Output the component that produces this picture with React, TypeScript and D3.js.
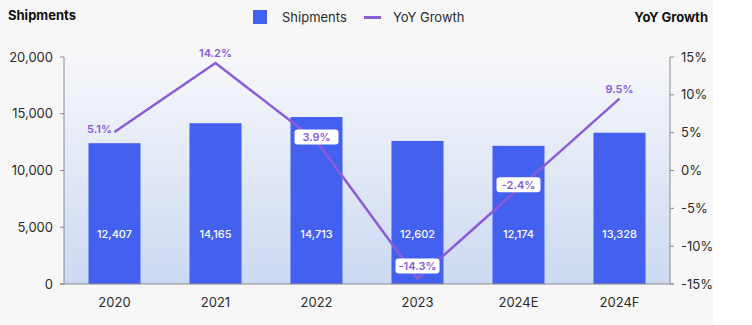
import React from "react";
import * as d3 from "d3";

const categories = ["2020", "2021", "2022", "2023", "2024E", "2024F"];
const shipments = [12407, 14165, 14713, 12602, 12174, 13328];
const growth = [5.1, 14.2, 3.9, -14.3, -2.4, 9.5];
const growthLabelKind = ["left", "above", "box", "box", "box", "above"];
const leftTicks = [0, 5000, 10000, 15000, 20000];
const rightTicks = [-15, -10, -5, 0, 5, 10, 15];

const W = 752;
const H = 325;
const X0 = 64;
const X1 = 670;
const YT = 57;
const YB = 284;
const FONT = "Inter, 'Open Sans', sans-serif";
const BAR = "#4361ee";
const LINE = "#8c5bd9";
const TXT = "#2b2b2b";

export default function App() {
  const x = d3.scaleBand<string>().domain(categories).range([X0, X1]).paddingInner(0.485).paddingOuter(0.2425);
  const yL = d3.scaleLinear().domain([0, 20000]).range([YB, YT]);
  const yR = d3.scaleLinear().domain([-15, 15]).range([YB, YT]);
  const cx = (c: string) => (x(c) as number) + x.bandwidth() / 2;
  const fmt = d3.format(",");
  const line = d3
    .line<number>()
    .x((_, i) => cx(categories[i]))
    .y((d) => yR(d));

  return (
    <div style={{ position: "fixed", left: 0, top: 0 }}>
      <svg width={W} height={H} style={{ display: "block" }} fontFamily={FONT}>
        <defs>
          <linearGradient id="plotbg" x1="0" y1="0" x2="0" y2="1">
            <stop offset="0%" stopColor="#f6f7f9" />
            <stop offset="100%" stopColor="#ccd9f2" />
          </linearGradient>
        </defs>
        <rect x={0} y={0} width={W} height={H} fill="#ffffff" />
        <rect x={0} y={0} width={713} height={H} fill="#f7f7f8" />
        <rect x={X0} y={YT} width={X1 - X0} height={YB - YT} fill="url(#plotbg)" />

        {/* titles */}
        <text x={8} y={20} fontSize={13} fontWeight={700} fill="#111">Shipments</text>
        <text x={708} y={22} fontSize={13} fontWeight={700} fill="#111" textAnchor="end">YoY Growth</text>

        {/* legend */}
        <rect x={253} y={10} width={14} height={14} fill={BAR} />
        <text x={282} y={22} fontSize={13} fill={TXT}>Shipments</text>
        <line x1={364} x2={381} y1={17.5} y2={17.5} stroke={LINE} strokeWidth={3} />
        <text x={393} y={22} fontSize={13} fill={TXT}>YoY Growth</text>

        {/* bars */}
        {categories.map((c, i) => (
          <g key={c}>
            <rect x={x(c)} y={yL(shipments[i])} width={x.bandwidth()} height={YB - yL(shipments[i])} fill={BAR} />
            <text x={cx(c)} y={YB - 46} fontSize={11} fontWeight={500} fill="#fff" textAnchor="middle">
              {fmt(shipments[i])}
            </text>
          </g>
        ))}

        {/* left axis */}
        <line x1={X0} x2={X0} y1={YT} y2={YB} stroke="#8a8a8a" strokeWidth={1} />
        {leftTicks.map((t) => (
          <g key={t}>
            <line x1={X0 - 4} x2={X0} y1={yL(t)} y2={yL(t)} stroke="#8a8a8a" />
            <text x={X0 - 11} y={yL(t) + 4.5} fontSize={13} fill={TXT} textAnchor="end">{fmt(t)}</text>
          </g>
        ))}
        {/* right axis */}
        <line x1={X1} x2={X1} y1={YT} y2={YB} stroke="#8a8a8a" strokeWidth={1} />
        {rightTicks.map((t) => (
          <g key={t}>
            <line x1={X1} x2={X1 + 4} y1={yR(t)} y2={yR(t)} stroke="#8a8a8a" />
            <text x={X1 + 11} y={yR(t) + 4.5} fontSize={13} fill={TXT}>{t}%</text>
          </g>
        ))}
        {/* baseline */}
        <line x1={X0 - 4} x2={X1 + 4} y1={YB} y2={YB} stroke="#8a8a8a" strokeWidth={1} />
        {categories.map((c) => (
          <text key={c} x={cx(c)} y={YB + 23} fontSize={13} fill={TXT} textAnchor="middle">{c}</text>
        ))}

        {/* growth line */}
        <path d={line(growth) || ""} fill="none" stroke={LINE} strokeWidth={2.5} />

        {/* growth labels */}
        {growth.map((g, i) => {
          const px = cx(categories[i]);
          const py = yR(g);
          const label = `${g.toFixed(1)}%`;
          const kind = growthLabelKind[i];
          if (kind === "box") {
            const cy = Math.min(py - 4, YB - 18);
            return (
              <g key={i}>
                <rect x={px - 22} y={cy - 7.5} width={44} height={15} rx={3} fill="#fff" />
                <text x={px} y={cy + 4} fontSize={11} fontWeight={600} fill={LINE} textAnchor="middle">{label}</text>
              </g>
            );
          }
          const lx = kind === "left" ? px - 15 : px;
          const ly = kind === "left" ? py + 1 : py - 6;
          return (
            <text key={i} x={lx} y={ly} fontSize={11} fontWeight={600} fill={LINE} textAnchor="middle">{label}</text>
          );
        })}
      </svg>
    </div>
  );
}
